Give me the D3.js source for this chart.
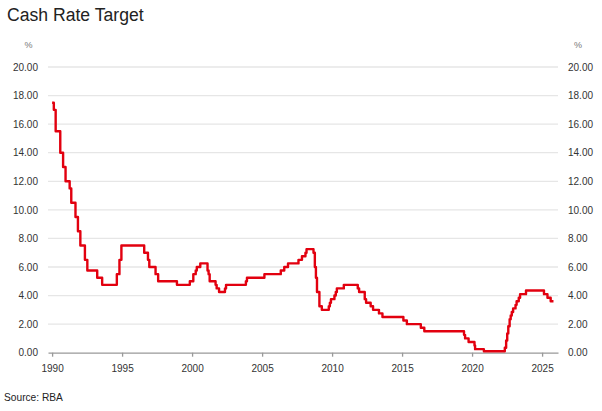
<!DOCTYPE html>
<html><head><meta charset="utf-8">
<script src="https://cdn.jsdelivr.net/npm/d3@7"></script>
<style>body{margin:0;background:#fff}svg{display:block}text{font-family:"Liberation Sans",Arial,sans-serif}</style>
</head><body><svg id="c" width="602" height="411"></svg>
<script>
const changeDates = ["1990-01-01","1990-02-15","1990-04-04","1990-08-02","1990-10-15","1990-12-18","1991-04-04","1991-05-16","1991-09-03","1991-11-06","1992-01-08","1992-05-06","1992-07-08","1993-03-23","1993-07-30","1994-08-17","1994-10-24","1994-12-14","1996-07-31","1996-11-06","1996-12-11","1997-05-23","1997-07-30","1998-12-02","1999-11-03","2000-02-02","2000-04-05","2000-05-03","2000-08-02","2001-02-07","2001-03-07","2001-04-04","2001-09-05","2001-10-03","2001-12-05","2002-05-08","2002-06-05","2003-11-05","2003-12-03","2005-03-02","2006-05-03","2006-08-02","2006-11-08","2007-08-08","2007-11-07","2008-02-06","2008-03-05","2008-09-03","2008-10-08","2008-11-05","2008-12-03","2009-02-04","2009-04-08","2009-10-07","2009-11-04","2009-12-02","2010-03-03","2010-04-07","2010-05-05","2010-11-03","2011-11-02","2011-12-07","2012-05-02","2012-06-06","2012-10-03","2012-12-05","2013-05-08","2013-08-07","2015-02-04","2015-05-06","2016-05-04","2016-08-03","2019-06-05","2019-07-03","2019-10-02","2020-03-04","2020-03-20","2020-11-04","2022-05-04","2022-06-08","2022-07-06","2022-08-03","2022-09-07","2022-10-05","2022-11-02","2022-12-07","2023-02-08","2023-03-08","2023-05-03","2023-06-07","2023-11-08","2025-02-19","2025-05-21","2025-08-13","2025-10-25"];
const cashRate = [17.5,17.0,15.5,14.0,13.0,12.0,11.5,10.5,9.5,8.5,7.5,6.5,5.75,5.25,4.75,5.5,6.5,7.5,7.0,6.5,6.0,5.5,5.0,4.75,5.0,5.5,5.75,6.0,6.25,5.75,5.5,5.0,4.75,4.5,4.25,4.5,4.75,5.0,5.25,5.5,5.75,6.0,6.25,6.5,6.75,7.0,7.25,7.0,6.0,5.25,4.25,3.25,3.0,3.25,3.5,3.75,4.0,4.25,4.5,4.75,4.5,4.25,3.75,3.5,3.25,3.0,2.75,2.5,2.25,2.0,1.75,1.5,1.25,1.0,0.75,0.5,0.25,0.1,0.35,0.85,1.35,1.85,2.35,2.6,2.85,3.1,3.35,3.6,3.85,4.1,4.35,4.1,3.85,3.6,3.6];
const yearTicks = [1990,1995,2000,2005,2010,2015,2020,2025];
const rateTicks = [0,2,4,6,8,10,12,14,16,18,20];

const parse = d3.timeParse("%Y-%m-%d");
const data = changeDates.map((d,i)=>({date:parse(d), v:cashRate[i]}));
const svg = d3.select("#c");
const L=48, R=558, T=67, B=352.7;
const x = d3.scaleTime().domain([new Date(1989,8,16), new Date(2026,1,20)]).range([L,R]);
const y = d3.scaleLinear().domain([0,20]).range([B,T]);

svg.append("text").attr("x",7).attr("y",21).attr("font-size",17.6).attr("fill","#222").text("Cash Rate Target");
svg.append("text").attr("x",28.5).attr("y",48).attr("text-anchor","middle").attr("font-size",9).attr("fill","#777").text("%");
svg.append("text").attr("x",578).attr("y",48).attr("text-anchor","middle").attr("font-size",9).attr("fill","#777").text("%");

// gridlines
svg.append("g").selectAll("line").data(rateTicks.filter(t=>t>0)).join("line")
  .attr("x1",L).attr("x2",R).attr("y1",d=>y(d)).attr("y2",d=>y(d))
  .attr("stroke","#e6e6e6").attr("stroke-width",1.3);

const fmt = d3.format(".2f");
const yl = svg.append("g").attr("transform",`translate(${L},0)`).call(d3.axisLeft(y).tickValues(rateTicks).tickFormat(fmt).tickSize(0).tickPadding(10));
const yr = svg.append("g").attr("transform",`translate(${R},0)`).call(d3.axisRight(y).tickValues(rateTicks).tickFormat(fmt).tickSize(0).tickPadding(10));
[yl,yr].forEach(g=>{g.select(".domain").remove(); g.selectAll("text").attr("font-size",10).attr("fill","#333").attr("font-family","Liberation Sans, Arial, sans-serif");});

const xa = svg.append("g").attr("transform",`translate(0,${B})`).call(d3.axisBottom(x).tickValues(yearTicks.map(yv=>new Date(yv,0,1))).tickFormat(d3.timeFormat("%Y")).tickSize(4).tickSizeOuter(0).tickPadding(8));
xa.select(".domain").attr("stroke","#999").attr("stroke-width",1.3);
xa.selectAll(".tick line").attr("stroke","#999").attr("stroke-width",1.3);
xa.selectAll("text").attr("font-size",10).attr("fill","#333").attr("font-family","Liberation Sans, Arial, sans-serif");

const line = d3.line().x(d=>x(d.date)).y(d=>y(d.v)).curve(d3.curveStepAfter);
svg.append("path").datum(data).attr("d",line).attr("fill","none").attr("stroke","#e2000f").attr("stroke-width",2.4).attr("stroke-linejoin","round");

svg.append("text").attr("x",4).attr("y",401).attr("font-size",10.2).attr("fill","#222").text("Source: RBA");
</script></body></html>
